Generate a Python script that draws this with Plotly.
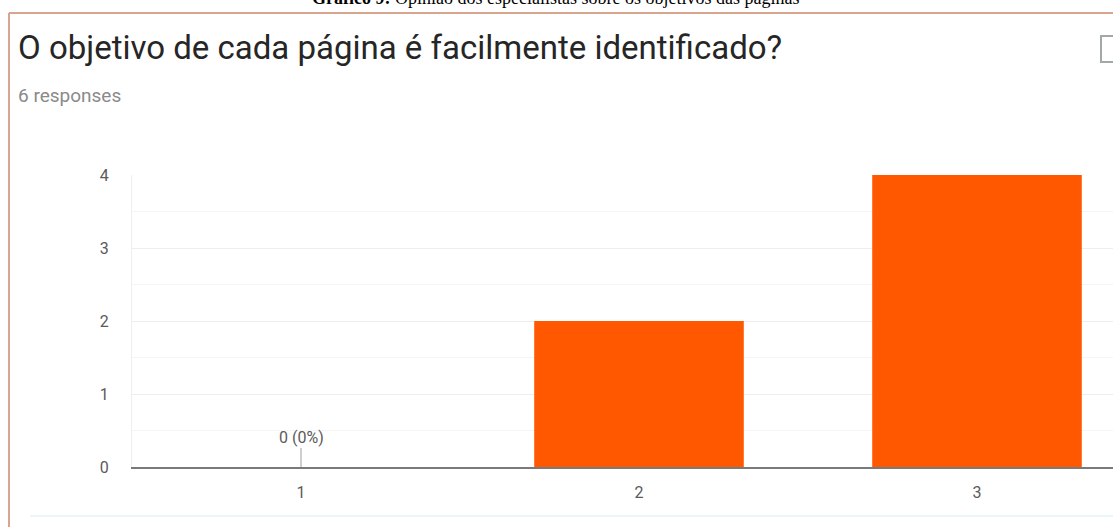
import plotly.graph_objects as go

# Survey answers on a 1-3 scale and number of responses per option
categories = ["1", "2", "3"]
counts = [0, 2, 4]
y_ticks = [0, 1, 2, 3, 4]

question = "O objetivo de cada página é facilmente identificado?"
caption_bold = "Gráfico 9:"
caption_rest = " Opinião dos especialistas sobre os objetivos das páginas"
total = sum(counts)

W, H = 1113, 527
L, R, T, B = 132, 0, 175, 60
plot_w = W - L - R
plot_h = H - T - B
band = 338  # pixel width of one category slot


def px(x):
    return (x - L) / plot_w


def py(y):
    return (H - B - y) / plot_h


fig = go.Figure()
fig.add_trace(go.Bar(
    x=[1, 2, 3],
    y=counts,
    marker=dict(color="#ff5800", line=dict(width=0)),
    width=0.62,
    hoverinfo="skip",
))

annotations = [
    dict(text=f"<b>{caption_bold}</b>{caption_rest}", xref="paper", yref="paper",
         x=px(555), y=py(-2), xanchor="center", yanchor="middle", showarrow=False,
         font=dict(family="Liberation Serif", size=18, color="#000000")),
    dict(text=question, xref="paper", yref="paper", x=px(16), y=py(47),
         xanchor="left", yanchor="middle", showarrow=False,
         font=dict(family="Roboto", size=33, color="#262626")),
    dict(text=f"{total} responses", xref="paper", yref="paper", x=px(16), y=py(95),
         xanchor="left", yanchor="middle", showarrow=False,
         font=dict(family="Roboto", size=19, color="#8a8a8a")),
]

# Value labels for empty options, pointing at the baseline
for i, v in enumerate(counts):
    if v == 0:
        pct = v / total * 100
        annotations.append(dict(
            text=f"{v} ({pct:.0f}%)", x=i + 1, y=v, xref="x", yref="y",
            showarrow=True, ax=0, ay=-30, arrowhead=0, arrowwidth=1,
            arrowcolor="#9e9e9e", font=dict(family="Roboto", size=16, color="#5a5a5a"),
        ))

shapes = [
    # card outline
    dict(type="line", xref="paper", yref="paper", x0=px(9), x1=px(1120), y0=py(13), y1=py(13),
         line=dict(color="#d9a58f", width=2)),
    dict(type="line", xref="paper", yref="paper", x0=px(9), x1=px(9), y0=py(13), y1=py(530),
         line=dict(color="#d9a58f", width=2)),
    dict(type="line", xref="paper", yref="paper", x0=px(30), x1=px(1113), y0=py(516), y1=py(516),
         line=dict(color="#eaf6fb", width=2)),
    # copy icon at the top-right corner
    dict(type="rect", xref="paper", yref="paper", x0=px(1101), x1=px(1120), y0=py(36), y1=py(62),
         line=dict(color="#a0a8a8", width=2), fillcolor="rgba(0,0,0,0)"),
]

fig.update_layout(
    width=W, height=H,
    margin=dict(l=L, r=R, t=T, b=B),
    paper_bgcolor="white", plot_bgcolor="white",
    showlegend=False,
    annotations=annotations,
    shapes=shapes,
    font=dict(family="Roboto"),
)

fig.update_xaxes(
    range=[0.5, 0.5 + plot_w / band],
    tickvals=[1, 2, 3], ticktext=categories,
    ticks="outside", ticklen=10, tickcolor="rgba(0,0,0,0)",
    tickfont=dict(family="Roboto", size=16, color="#5a5a5a"),
    showgrid=False, zeroline=False,
    showline=True, linecolor="#7a7a7a", linewidth=2,
    fixedrange=True,
)
fig.update_yaxes(
    range=[0, 4],
    tickvals=y_ticks,
    ticks="outside", ticklen=19, tickcolor="rgba(0,0,0,0)",
    tickfont=dict(family="Roboto", size=16, color="#5a5a5a"),
    showgrid=True, gridcolor="#eeeeee", gridwidth=1,
    minor=dict(dtick=0.5, showgrid=True, gridcolor="#f5f5f5"),
    zeroline=False,
    showline=True, linecolor="#f0f0f0", linewidth=1,
    fixedrange=True,
)

fig.write_html("out.html", config={"displayModeBar": False})
